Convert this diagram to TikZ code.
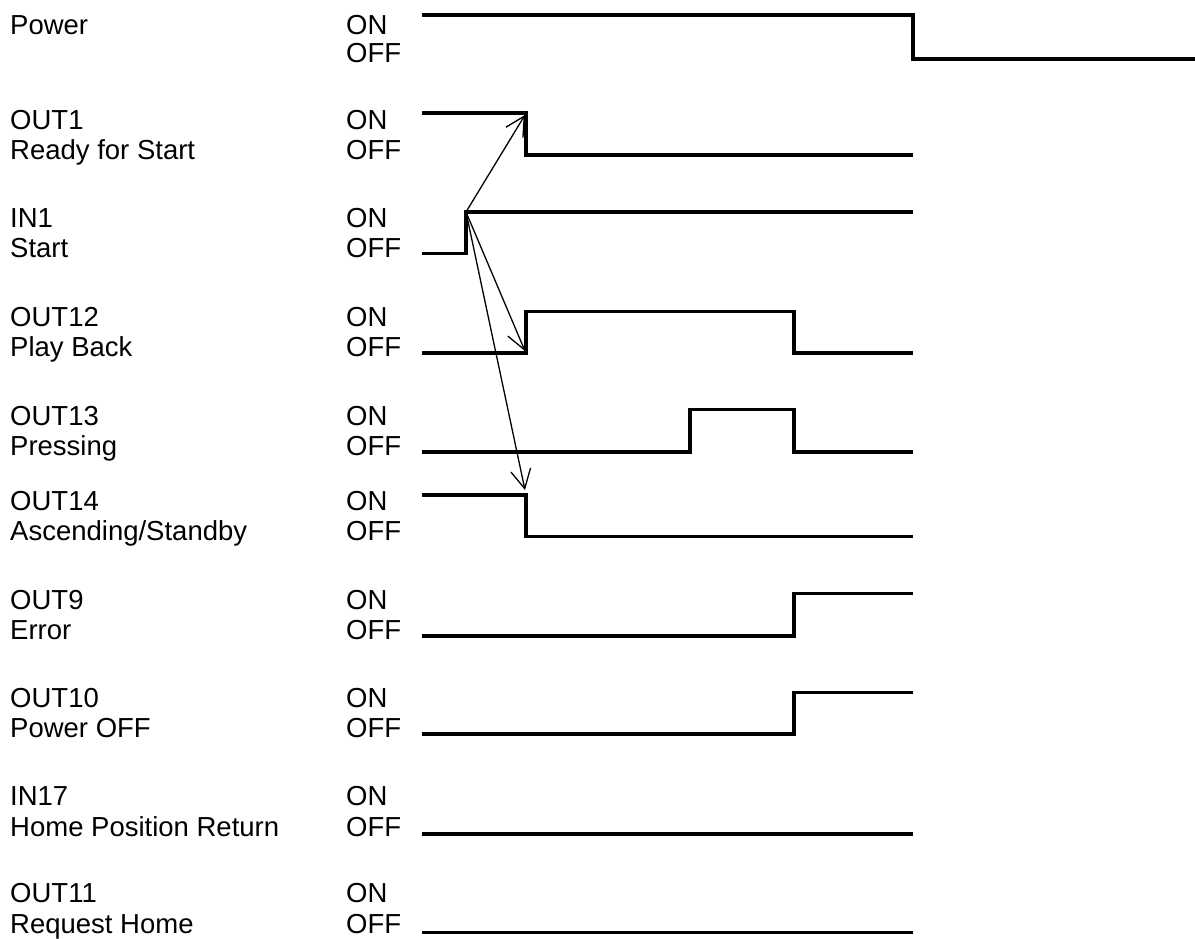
\documentclass[tikz,border=0pt]{standalone}
\usepackage{fontspec}
\setmainfont{Liberation Sans}
\usetikzlibrary{arrows.meta}
\begin{document}
\begin{tikzpicture}[x=1pt,y=-1pt,
  lbl/.style={anchor=base west,inner sep=0pt,font=\fontsize{27.5}{32}\selectfont},
  sig/.style={line width=3.4pt,line join=miter,line cap=butt},
  cause/.style={line width=1.3pt,-{Straight Barb[length=19pt,width=20pt,line width=1.3pt]}}]
\useasboundingbox (0,0) rectangle (1195,939);
% ---- labels: name, description, first baseline, second baseline ----
\newcommand\rowlabels[4]{%
  \node[lbl] (#1a) at (10,#3) {#1};
  \node[lbl] (#1b) at (10,#4) {#2};
  \node[lbl] (#1on) at (346,#3) {ON};
  \node[lbl] (#1off) at (346,#4) {OFF};}
\rowlabels{Power}{}{35}{63}
\rowlabels{OUT1}{Ready for Start}{130}{160}
\rowlabels{IN1}{Start}{227}{257}
\rowlabels{OUT12}{Play Back}{326}{356}
\rowlabels{OUT13}{Pressing}{425}{455}
\rowlabels{OUT14}{Ascending/Standby}{510}{540}
\rowlabels{OUT9}{Error}{609}{639}
\rowlabels{OUT10}{Power OFF}{707}{737}
\rowlabels{IN17}{Home Position Return}{805}{836}
\rowlabels{OUT11}{Request Home}{902.5}{933}
% ---- signals ----
\draw[sig] (422,15) -- (913,15) -- (913,59) -- (1195,59);
\draw[sig] (422,113) -- (526,113) -- (526,155) -- (913,155);
\draw[sig] (422,253.5) -- (466,253.5) -- (466,212) -- (913,212);
\draw[sig] (422,353) -- (526,353) -- (526,311.7) -- (794,311.7) -- (794,353) -- (913,353);
\draw[sig] (422,452) -- (690,452) -- (690,409.3) -- (794,409.3) -- (794,452) -- (913,452);
\draw[sig] (422,495) -- (526,495) -- (526,536.7) -- (913,536.7);
\draw[sig] (422,636) -- (794,636) -- (794,593.3) -- (913,593.3);
\draw[sig] (422,734) -- (794,734) -- (794,692.7) -- (913,692.7);
\draw[sig] (422,834) -- (913,834);
\draw[sig] (422,932.7) -- (913,932.7);
% ---- cause arrows ----
\coordinate (start) at (466,212);
\coordinate (t1) at (525,115);
\coordinate (t2) at (525,351);
\coordinate (t3) at (525,490);
\draw[cause] (start) -- (t1);
\draw[cause] (start) -- (t2);
\draw[cause] (start) -- (t3);
\end{tikzpicture}
\end{document}
